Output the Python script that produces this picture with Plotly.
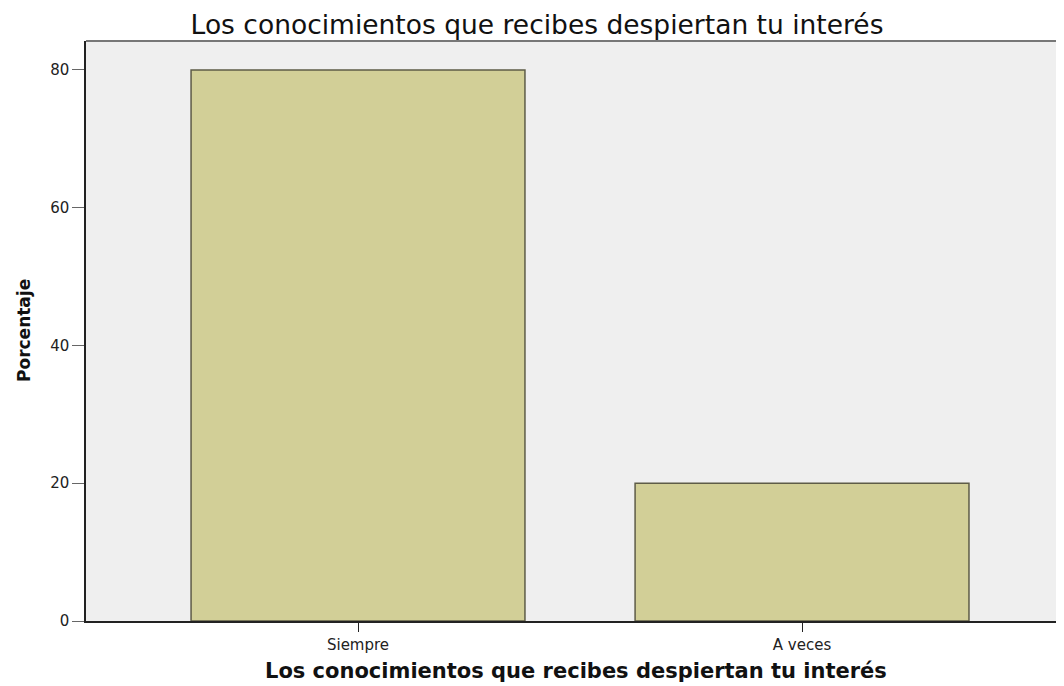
import plotly.graph_objects as go

categories = ["Siempre", "A veces"]
values = [80, 20]
y_ticks = [0, 20, 40, 60, 80]
y_tick_labels = ["0", "20", "40", "60", "80"]
title_text = "Los conocimientos que recibes despiertan tu interés"
x_title = "Los conocimientos que recibes despiertan tu interés"
y_title = "Porcentaje"

fig = go.Figure()
fig.add_trace(go.Bar(
    x=list(range(len(categories))),
    y=values,
    width=0.752,
    marker=dict(color="#d2cf97", line=dict(color="#5e5c47", width=1.5)),
    hoverinfo="skip",
))

# page body has an 8px margin, so the figure is shrunk by 8px to end at the window edge
fig.update_layout(
    width=1056, height=678,
    margin=dict(l=78, r=0, t=33, b=65),
    paper_bgcolor="white",
    plot_bgcolor="#efefef",
    showlegend=False,
    title=dict(text=title_text, x=0.501, xanchor="center", y=0.976, yanchor="middle",
               font=dict(family="DejaVu Sans", size=26.5, color="#111111")),
    xaxis=dict(
        range=[-0.6126, 1.59],
        tickmode="array",
        tickvals=list(range(len(categories))),
        ticktext=categories,
        ticks="outside", ticklen=9, tickcolor="#222222",
        tickfont=dict(family="DejaVu Sans", size=15, color="#222222"),
        showline=True, linecolor="#222222", linewidth=1.5,
        showgrid=False, zeroline=False,
    ),
    yaxis=dict(
        range=[0, 84.2],
        tickmode="array",
        tickvals=y_ticks,
        ticktext=y_tick_labels,
        ticks="outside", ticklen=12, tickcolor="#666666",
        tickfont=dict(family="DejaVu Sans", size=15, color="#222222"),
        showline=True, linecolor="#222222", linewidth=1.5,
        showgrid=False, zeroline=False,
    ),
    annotations=[
        dict(text="<b>" + x_title + "</b>", xref="paper", yref="paper", x=0.501, y=0,
             xanchor="center", yanchor="middle", yshift=-50, showarrow=False,
             font=dict(family="DejaVu Sans", size=21, color="#111111")),
        dict(text="<b>" + y_title + "</b>", xref="paper", yref="paper", x=0, y=0.5,
             xanchor="center", yanchor="middle", xshift=-62, textangle=-90, showarrow=False,
             font=dict(family="DejaVu Sans", size=17, color="#111111")),
    ],
)

# top border of the plot area
fig.add_shape(type="line", xref="paper", yref="paper", x0=0, x1=1, y0=1, y1=1,
              line=dict(color="#777777", width=2))

fig.write_html("out.html")
